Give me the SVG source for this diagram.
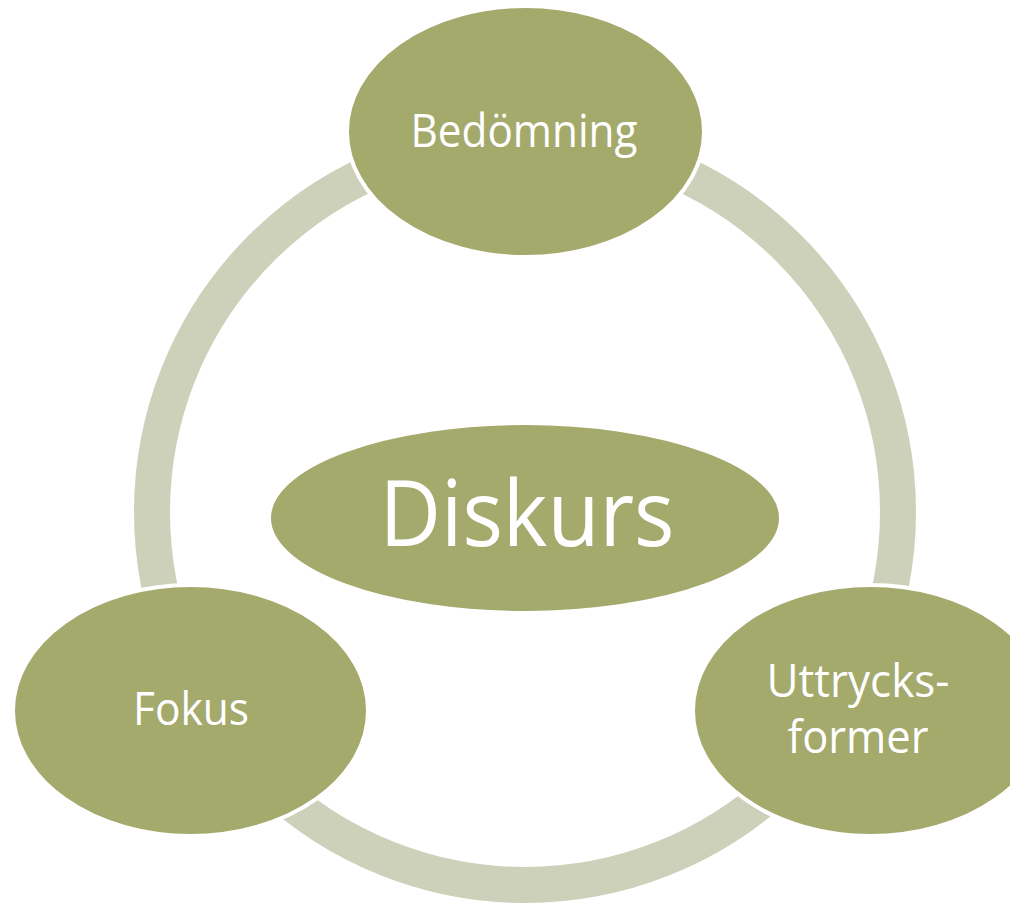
<svg xmlns="http://www.w3.org/2000/svg" width="1010" height="903" viewBox="0 0 1010 903">
<style>
.node{fill:#A4A96C;stroke:#FFFFFF;stroke-width:4}
.ring{fill:none;stroke:#CDD1BA;stroke-width:36}
.lbl{font-family:"Open Sans","Liberation Sans",sans-serif;fill:#FFFFFF;text-anchor:middle}
.sm{font-size:45px}
.lg{font-size:92px}
</style>
<rect width="1010" height="903" fill="#FFFFFF"/>
<g id="connectors">
<circle class="ring" cx="525" cy="512" r="373"/>
</g>
<g id="node-bedomning">
<ellipse class="node" cx="525.5" cy="131.5" rx="178.5" ry="125.5"/>
<text class="lbl sm" x="524" y="147" textLength="227" lengthAdjust="spacingAndGlyphs">Bedömning</text>
</g>
<g id="node-uttrycksformer">
<ellipse class="node" cx="870.5" cy="710.5" rx="177.5" ry="125.5"/>
<text class="lbl sm" x="858" y="697" textLength="183" lengthAdjust="spacingAndGlyphs">Uttrycks-</text>
<text class="lbl sm" x="858" y="753" textLength="141" lengthAdjust="spacingAndGlyphs">former</text>
</g>
<g id="node-fokus">
<ellipse class="node" cx="190.5" cy="710.5" rx="177.5" ry="125.5"/>
<text class="lbl sm" x="191" y="725" textLength="116" lengthAdjust="spacingAndGlyphs">Fokus</text>
</g>
<g id="node-diskurs">
<ellipse class="node" cx="525" cy="518" rx="256" ry="95"/>
<text class="lbl lg" x="527" y="546" textLength="295" lengthAdjust="spacingAndGlyphs">Diskurs</text>
</g>
</svg>
